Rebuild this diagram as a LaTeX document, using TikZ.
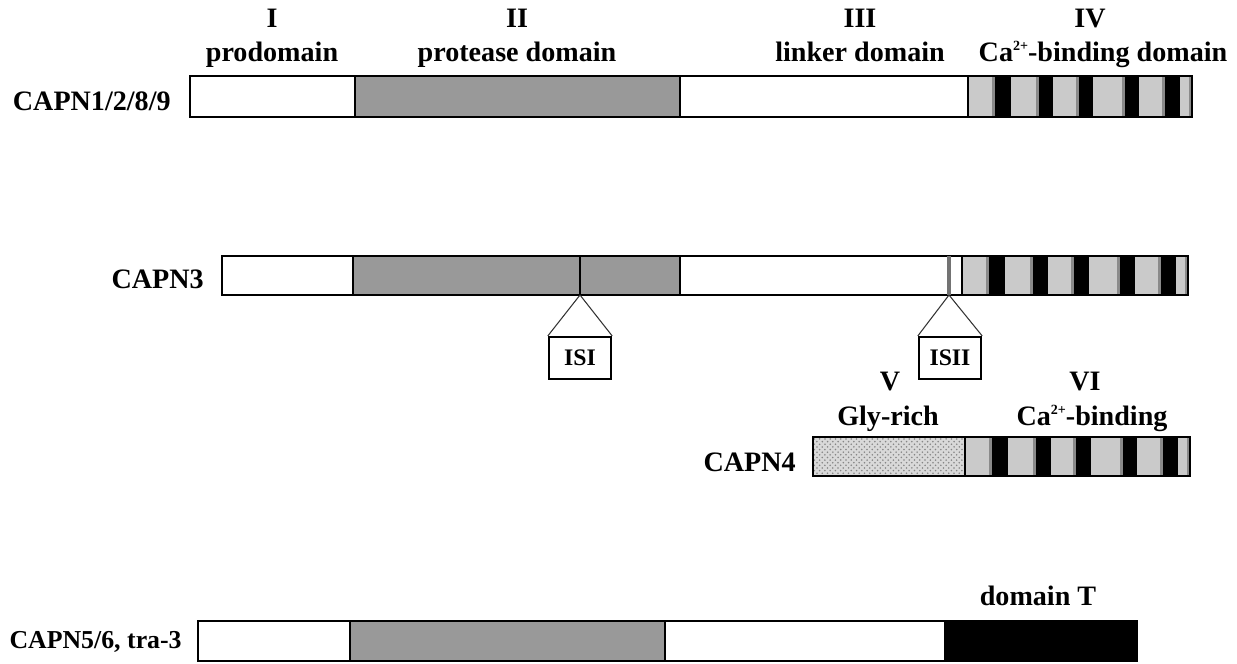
\documentclass[tikz,border=0pt]{standalone}
\usepackage{fontspec}
\setmainfont{Liberation Serif}
\usetikzlibrary{patterns}
\definecolor{protgray}{RGB}{153,153,153}
\definecolor{cagray}{RGB}{202,202,202}
\definecolor{edgegray}{RGB}{138,138,138}

\tikzset{
  lbl/.style={font=\fontsize{16}{19}\selectfont\bfseries, inner sep=0pt, anchor=base},
  rowlbl/.style={lbl, anchor=base east},
  seg/.style={draw=black, line width=1.3pt, fill=white},
  isbox/.style={draw, line width=1.3pt, minimum width=1.24cm, minimum height=0.84cm,
    inner sep=0pt, font=\fontsize{13.5}{15}\selectfont\bfseries},
  isline/.style={line width=0.6pt, black!80},
}

% small raised charge
\newcommand{\catwo}{Ca\raisebox{0.85ex}{\fontsize{8}{8}\selectfont 2+}}

% Ca-binding repeats: x start, x end, y top, y bottom
\newcommand{\cabind}[4]{%
  \fill[cagray] (#1,#3) rectangle (#2,#4);
  \foreach \a/\b in {.12/.19,.315/.38,.495/.56,.70/.765,.88/.945}{
    \fill[edgegray] ({#1+\a*(#2-#1)-3},#3) rectangle ({#1+\a*(#2-#1)},#4);
    \fill[black] ({#1+\a*(#2-#1)},#3) rectangle ({#1+\b*(#2-#1)},#4);
  }
  \fill[edgegray] ({#2-3},#3) rectangle (#2,#4);
  \draw[seg, fill=none] (#1,#3) rectangle (#2,#4);
}

\begin{document}
\begin{tikzpicture}[x=0.02cm, y=-0.02cm]
  \useasboundingbox (0,0) rectangle (1237,663);

  % domain headings
  \node[lbl] (numI) at (272,27) {I};
  \node[lbl] (prodom) at (272,61) {prodomain};
  \node[lbl] (numII) at (517,27) {II};
  \node[lbl] (protdom) at (517,61) {protease domain};
  \node[lbl] (numIII) at (860,27) {III};
  \node[lbl] (linkdom) at (860,61) {linker domain};
  \node[lbl] (numIV) at (1090,27) {IV};
  \node[lbl] (cadom) at (1103,61) {\catwo-binding domain};

  % CAPN1/2/8/9
  \node[rowlbl] (capnA) at (171,110) {CAPN1/2/8/9};
  \draw[seg] (190,76) rectangle (355,117);
  \draw[seg, fill=protgray] (355,76) rectangle (680,117);
  \draw[seg] (680,76) rectangle (968,117);
  \cabind{968}{1192}{76}{117}

  % CAPN3
  \node[rowlbl] (capnB) at (204,288) {CAPN3};
  \draw[seg] (222,256) rectangle (353,295);
  \draw[seg, fill=protgray] (353,256) rectangle (680,295);
  \draw[seg] (680,256) rectangle (962,295);
  \cabind{962}{1188}{256}{295}
  \draw[line width=1.5pt] (580,256) -- (580,295);
  \draw[line width=1.8pt, black!55] (949,256) -- (949,295);
  \coordinate (insA) at (580,295);
  \coordinate (insB) at (949,295);
  \node[isbox] (isone) at (580,358) {ISI};
  \node[isbox] (istwo) at (950,358) {ISII};
  \draw[isline] (insA) -- (isone.north west);
  \draw[isline] (insA) -- (isone.north east);
  \draw[isline] (insB) -- (istwo.north west);
  \draw[isline] (insB) -- (istwo.north east);

  % CAPN4
  \node[lbl] (numV) at (890,390) {V};
  \node[lbl] (glydom) at (888,425) {Gly-rich};
  \node[lbl] (numVI) at (1085,390) {VI};
  \node[lbl] (cabdom) at (1092,425) {\catwo-binding};
  \node[rowlbl] (capnC) at (796,471) {CAPN4};
  \fill[gray!30] (813,437) rectangle (965,476);
  \fill[pattern=crosshatch dots, pattern color=gray!95] (813,437) rectangle (965,476);
  \draw[seg, fill=none] (813,437) rectangle (965,476);
  \cabind{965}{1190}{437}{476}

  % CAPN5/6, tra-3
  \node[lbl] (domT) at (1038,605) {domain T};
  \node[rowlbl, font=\fontsize{14.7}{17}\selectfont\bfseries] (capnD) at (182,648) {CAPN5/6, tra-3};
  \draw[seg] (198,621) rectangle (350,661);
  \draw[seg, fill=protgray] (350,621) rectangle (665,661);
  \draw[seg] (665,621) rectangle (945,661);
  \draw[seg, fill=black] (945,621) rectangle (1137,661);
\end{tikzpicture}
\end{document}
